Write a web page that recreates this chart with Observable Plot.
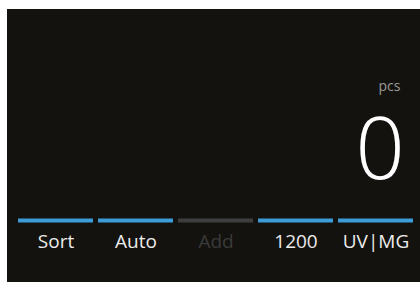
<!DOCTYPE html>
<html>
<head>
<meta charset="utf-8">
<script src="https://cdn.jsdelivr.net/npm/d3@7"></script>
<script src="https://cdn.jsdelivr.net/npm/@observablehq/plot@0.6"></script>
<style>
  html, body { margin: 0; padding: 0; background: #ffffff; width: 420px; height: 282px; overflow: hidden; }
  #chart { position: absolute; left: 7px; top: 9px; }
  #chart svg { display: block; background: #13120f; }
</style>
</head>
<body>
<div id="chart"></div>
<script>
// Data
const labels = ["Sort", "Auto", "Add", "1200", "UV|MG"];
const enabled = [true, true, false, true, true];
const countValue = [0];
const unitLabel = ["pcs"];

const rows = labels.map((label, i) => ({label, enabled: enabled[i]}));

const W = 413, H = 273;
const plot = Plot.plot({
  width: W,
  height: H,
  marginTop: 0, marginRight: 0, marginBottom: 0, marginLeft: 0,
  style: {background: "#13120f", fontFamily: "'Open Sans', sans-serif"},
  x: {type: "band", domain: labels, range: [10, 407], paddingInner: 0.065, paddingOuter: 0, axis: null},
  y: {type: "linear", domain: [0, H], range: [0, H], axis: null},
  marks: [
    Plot.tickY(rows, {x: "label", y: 211, stroke: d => d.enabled ? "#3d9bd6" : "#3e3e3e", strokeWidth: 4}),
    Plot.text(rows, {x: "label", y: 238, text: "label", lineAnchor: "bottom", fontSize: 19,
      fill: d => d.enabled ? "#ececec" : "#3a3a3a"}),
    Plot.text(unitLabel, {y: 81, text: d => d, frameAnchor: "right", dx: -20, textAnchor: "end", lineAnchor: "bottom",
      fontSize: 14, fill: "#9a9a9a"}),
    Plot.text(countValue, {y: 169, text: d => String(d), frameAnchor: "right", dx: -16, textAnchor: "end", lineAnchor: "bottom",
      fontSize: 86, fontWeight: 300, fill: "#ffffff", fontFamily: "'Open Sans Light', 'Open Sans', sans-serif"})
  ]
});
document.getElementById("chart").appendChild(plot);
</script>
</body>
</html>
